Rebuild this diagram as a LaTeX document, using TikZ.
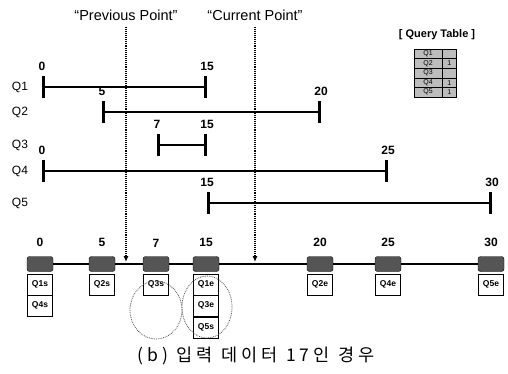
\documentclass[tikz,border=0pt]{standalone}
\usepackage{fontspec}
\setmainfont{Liberation Sans}
\newfontfamily\krfont[LetterSpace=24]{Noto Sans CJK KR}
\usetikzlibrary{arrows.meta,positioning,shapes.geometric}
\definecolor{evc}{HTML}{555555}
\definecolor{cellc}{HTML}{BDBDBD}
\tikzset{
  qlbl/.style={font=\fontsize{12}{12}\selectfont, inner sep=1pt},
  num/.style={font=\fontsize{12}{12}\selectfont\bfseries, inner sep=1pt},
  bar/.style={line width=2.4pt, {Bar[width=22pt,line width=2.8pt]}-{Bar[width=22pt,line width=2.8pt]}},
  ptr/.style={densely dotted, line width=1.1pt, -{Latex[length=6pt,width=5pt]}},
  ptlbl/.style={font=\fontsize{14.5}{14.5}\selectfont, inner sep=1pt},
  evbox/.style={draw=black, fill=evc, rounded corners=2.5pt, minimum width=26pt,
                minimum height=15pt, inner sep=0pt},
  tag/.style={draw, thin, minimum width=25pt, minimum height=21pt, inner sep=0pt,
              font=\fontsize{8.5}{8.5}\selectfont\bfseries},
  grp/.style={ellipse, draw=gray!60!black, densely dotted, thick, inner sep=0pt},
  cell/.style={draw, fill=cellc, minimum height=9.6pt, inner sep=0pt,
               font=\fontsize{7}{7}\selectfont},
}

\begin{document}
\begin{tikzpicture}[x=1pt, y=-1pt]
\useasboundingbox (0,0) rectangle (508,373);
\foreach \q/\y/\a/\b/\xa/\xb in {1/87/0/15/42/207, 2/112/5/20/102/321,
    3/145/7/15/157/207, 4/171/0/25/42/388, 5/203/15/30/207/492} {
  \node[qlbl] (lq\q) at (20,\y) {Q\q};
  \coordinate (q\q-s) at (\xa,\y);
  \coordinate (q\q-e) at (\xb,\y);
  \draw[bar] (q\q-s) -- (q\q-e);
  \node[num, above=15pt of q\q-s] (n\q-s) {\a};
  \node[num, above=15pt of q\q-e] (n\q-e) {\b};
}
\foreach \v/\x in {0/40, 5/102, 7/156, 15/206, 20/320, 25/388, 30/491} {
  \node[evbox] (t\v) at (\x,264) {};
  \node[num, above=8pt of t\v] (nt\v) {\v};
}
\foreach \a/\b in {0/5, 5/7, 7/15, 15/20, 20/25, 25/30}
  \draw[line width=1.3pt] (t\a) -- (t\b);
\node[tag, below=2pt of t0] (tg1s) {Q1s};
\node[tag, below=0pt of tg1s] (tg4s) {Q4s};
\node[tag, below=2pt of t5] (tg2s) {Q2s};
\node[tag, below=2pt of t7] (tg3s) {Q3s};
\node[tag, below=2pt of t15] (tg1e) {Q1e};
\node[tag, below=0pt of tg1e] (tg3e) {Q3e};
\node[tag, below=0pt of tg3e] (tg5s) {Q5s};
\node[tag, below=2pt of t20] (tg2e) {Q2e};
\node[tag, below=2pt of t25] (tg4e) {Q4e};
\node[tag, below=2pt of t30] (tg5e) {Q5e};
\node[grp, minimum width=52pt, minimum height=58pt] (grp7) at (156,310) {};
\node[grp, minimum width=50pt, minimum height=62pt] (grp15) at (207,307) {};
\node[ptlbl] (prev) at (126,15) {“Previous Point”};
\node[ptlbl] (cur) at (255,15) {“Current Point”};
\coordinate (prevhit) at (126,262);
\coordinate (curhit) at (255,262);
\draw[ptr, shorten <=5pt] (prev) -- (prevhit);
\draw[ptr, shorten <=5pt] (cur) -- (curhit);
\node[font=\fontsize{11}{11}\selectfont\bfseries] (qtitle) at (437,35) {[ Query Table ]};
\foreach \q/\v [count=\i] in {Q1/, Q2/1, Q3/, Q4/1, Q5/1} {
  \node[cell, minimum width=28pt] (qt\i-a) at (428,44.2+9.6*\i) {\q};
  \node[cell, minimum width=14pt, right=0pt of qt\i-a] (qt\i-b) {\v};
}
\node[font=\krfont\fontsize{17.5}{17.5}\selectfont] (cap) at (256,356) {(b) 입력 데이터 17인 경우};
\end{tikzpicture}
\end{document}
